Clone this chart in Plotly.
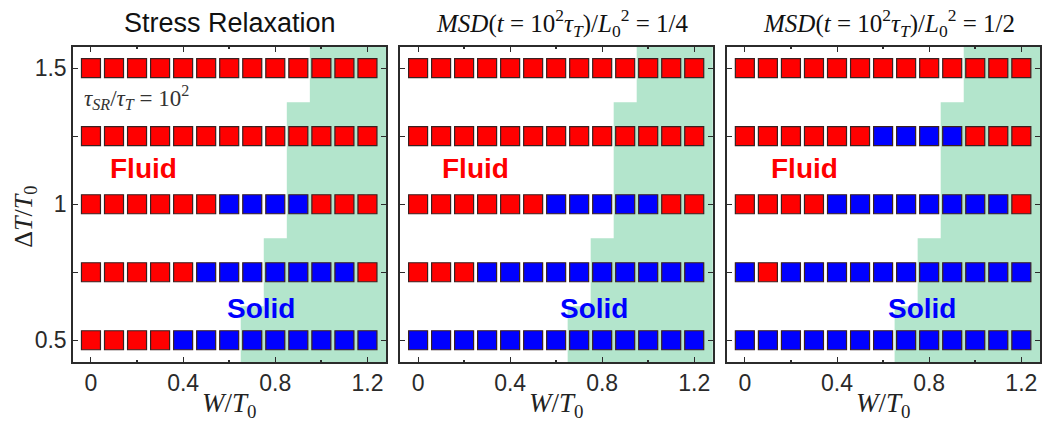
import plotly.graph_objects as go

# ---------------- data ----------------
W = [0.0, 0.1, 0.2, 0.3, 0.4, 0.5, 0.6, 0.7, 0.8, 0.9, 1.0, 1.1, 1.2]
DT = [0.5, 0.75, 1.0, 1.25, 1.5]

# F = fluid (red), S = solid (blue); one string per DT row (bottom to top)
stress_relaxation = [
    "FFFFSSSSSSSSS",
    "FFFFFSSSSSSSF",
    "FFFFFFSSSSFFF",
    "FFFFFFFFFFFFF",
    "FFFFFFFFFFFFF",
]
msd_quarter = [
    "SSSSSSSSSSSSS",
    "FFFSSSSSSSSSS",
    "FFFFFFSSSSSFF",
    "FFFFFFFFFFFFF",
    "FFFFFFFFFFFFF",
]
msd_half = [
    "SSSSSSSSSSSSS",
    "SFSSSSSSSSSSS",
    "FFFFSSSSSSSSF",
    "FFFFFFSSSSFFF",
    "FFFFFFFFFFFFF",
]
panels = [stress_relaxation, msd_quarter, msd_half]

panel_titles = [
    "Stress Relaxation",
    "<i>MSD</i>(<i>t</i> = 10<sup>2</sup><i>τ<sub>T</sub></i>)/<i>L</i><sub>0</sub><sup>2</sup> = 1/4",
    "<i>MSD</i>(<i>t</i> = 10<sup>2</sup><i>τ<sub>T</sub></i>)/<i>L</i><sub>0</sub><sup>2</sup> = 1/2",
]

# green shaded region staircase (same in each panel)
boundary_W = [0.65, 0.75, 0.85, 0.95]
boundary_DT = [0.625, 0.875, 1.375]

# label positions per panel
fluid_x = [0.23, 0.25, 0.26]
solid_x = [0.74, 0.765, 0.77]
fluid_y = 1.13
solid_y = 0.615

x_tickvals = [0, 0.4, 0.8, 1.2]
x_ticktext = ["0", "0.4", "0.8", "1.2"]
x_minor = [0.2, 0.6, 1.0]
y_tickvals = [0.5, 0.75, 1.0, 1.25, 1.5]
y_ticktext = ["0.5", "", "1", "", "1.5"]

X_RANGE = [-0.078, 1.281]
Y_RANGE = [0.42, 1.578]

RED = "#ff0000"
BLUE = "#0000ff"
GREEN = "rgb(179,229,204)"
AXC = "#2b2b2b"

domains = [[0.0, 0.3238], [0.3383, 0.6617], [0.6762, 1.0]]

fig = go.Figure()

for p, grid in enumerate(panels):
    xa = "x" if p == 0 else f"x{p+1}"
    ya = "y" if p == 0 else f"y{p+1}"
    # shaded region
    xs = [boundary_W[0], boundary_W[0], boundary_W[1], boundary_W[1],
          boundary_W[2], boundary_W[2], boundary_W[3], boundary_W[3],
          X_RANGE[1], X_RANGE[1]]
    ys = [Y_RANGE[0], boundary_DT[0], boundary_DT[0], boundary_DT[1],
          boundary_DT[1], boundary_DT[2], boundary_DT[2], Y_RANGE[1],
          Y_RANGE[1], Y_RANGE[0]]
    fig.add_trace(go.Scatter(x=xs, y=ys, fill="toself", fillcolor=GREEN,
                             mode="lines", line=dict(width=0),
                             hoverinfo="skip", showlegend=False,
                             xaxis=xa, yaxis=ya))
    px, py, pc = [], [], []
    for r, row in enumerate(grid):
        for c, s in enumerate(row):
            px.append(W[c])
            py.append(DT[r])
            pc.append(RED if s == "F" else BLUE)
    fig.add_trace(go.Scatter(x=px, y=py, mode="markers",
                             marker=dict(symbol="square", size=19, color=pc,
                                         line=dict(color="#3a2020", width=1.2)),
                             showlegend=False, xaxis=xa, yaxis=ya))

axis_common = dict(showline=True, linecolor=AXC, linewidth=1.5, mirror="ticks",
                   ticks="inside", tickcolor=AXC, ticklen=5, tickwidth=1.2,
                   showgrid=False, zeroline=False,
                   tickfont=dict(family="Liberation Sans, Arial", size=23, color="#2a2a2a"))

layout = dict(width=1050, height=432, plot_bgcolor="white", paper_bgcolor="white",
              margin=dict(l=73, r=8, t=47, b=70), showlegend=False)

for p in range(3):
    xk = "xaxis" if p == 0 else f"xaxis{p+1}"
    yk = "yaxis" if p == 0 else f"yaxis{p+1}"
    layout[xk] = dict(axis_common, domain=domains[p], range=X_RANGE,
                      tickvals=x_tickvals, ticktext=x_ticktext,
                      minor=dict(tickvals=x_minor, ticklen=2, ticks="inside",
                                 tickcolor=AXC, tickwidth=1.5),
                      anchor="y" if p == 0 else f"y{p+1}")
    layout[yk] = dict(axis_common, domain=[0, 1], range=Y_RANGE,
                      tickvals=y_tickvals,
                      ticktext=y_ticktext if p == 0 else [""] * 5,
                      showticklabels=(p == 0),
                      anchor="x" if p == 0 else f"x{p+1}")

fig.update_layout(**layout)

annotations = []
serif = "Liberation Serif, Times New Roman, serif"
for p in range(3):
    d = domains[p]
    cx = (d[0] + d[1]) / 2
    xa = "x" if p == 0 else f"x{p+1}"
    ya = "y" if p == 0 else f"y{p+1}"
    annotations.append(dict(text=panel_titles[p], xref="paper", yref="paper",
                            x=cx + (0.006 if p > 0 else 0), y=1.076,
                            xanchor="center", yanchor="middle",
                            showarrow=False,
                            font=dict(family="Liberation Sans, Arial" if p == 0 else serif,
                                      size=27 if p == 0 else 25, color="#111")))
    annotations.append(dict(text="<i>W</i>/<i>T</i><sub>0</sub>", xref="paper", yref="paper",
                            x=cx, y=-0.135, xanchor="center", yanchor="middle",
                            showarrow=False, font=dict(family=serif, size=27, color="#222")))
    annotations.append(dict(text="<b>Fluid</b>", xref=xa, yref=ya, x=fluid_x[p], y=fluid_y,
                            showarrow=False, font=dict(family="Liberation Sans, Arial",
                                                       size=28, color=RED)))
    annotations.append(dict(text="<b>Solid</b>", xref=xa, yref=ya, x=solid_x[p], y=solid_y,
                            showarrow=False, font=dict(family="Liberation Sans, Arial",
                                                       size=28, color=BLUE)))

annotations.append(dict(text="<i>τ<sub>SR</sub></i>/<i>τ<sub>T</sub></i> = 10<sup>2</sup>",
                        xref="x", yref="y", x=-0.04, y=1.394, xanchor="left",
                        yanchor="middle", showarrow=False,
                        font=dict(family=serif, size=23, color="#333")))
annotations.append(dict(text="Δ<i>T</i>/<i>T</i><sub>0</sub>", xref="paper", yref="paper",
                        x=-0.05, y=0.46, xanchor="center", yanchor="middle",
                        textangle=-90, showarrow=False,
                        font=dict(family=serif, size=26, color="#222")))

fig.update_layout(annotations=annotations)

fig.write_html("out.html", config={"displayModeBar": False},
               post_script="document.body.style.margin='0';document.body.style.padding='0';")
